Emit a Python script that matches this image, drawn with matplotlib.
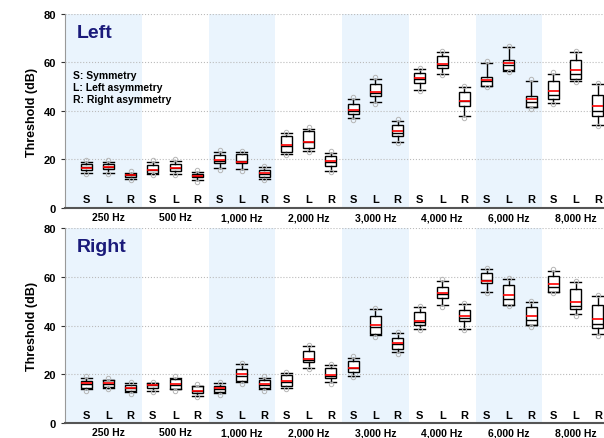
import matplotlib
matplotlib.use("Agg")
import matplotlib.pyplot as plt

plt.rcParams['font.family'] = ['Liberation Sans', 'DejaVu Sans']
plt.rcParams['font.weight'] = 'bold'

freqs = ['250 Hz', '500 Hz', '1,000 Hz', '2,000 Hz', '3,000 Hz', '4,000 Hz', '6,000 Hz', '8,000 Hz']
groups = ['S', 'L', 'R']

# left ear: whisker low, q1, median, mean, q3, whisker high (S, L, R per frequency)
left_lo = [14.5, 14.5, 12.0, 14.0, 14.0, 11.5, 16.4, 16.0, 12.0, 22.3, 23.6, 15.4,
           37.0, 43.6, 27.4, 48.8, 55.3, 37.8, 50.4, 56.6, 41.5, 43.3, 52.5, 34.2]
left_q1 = [15.5, 16.0, 12.8, 14.5, 15.1, 12.6, 18.6, 18.4, 12.6, 23.0, 24.6, 17.5,
           38.8, 46.3, 29.8, 51.5, 57.6, 42.2, 50.4, 57.0, 41.5, 44.9, 53.2, 38.1]
left_med = [17.0, 17.0, 13.5, 15.5, 16.5, 13.2, 19.5, 19.5, 14.0, 25.5, 27.0, 19.0,
            40.0, 47.5, 31.0, 53.0, 59.0, 44.0, 52.5, 59.0, 43.5, 46.7, 55.3, 40.1]
left_mean = [16.5, 16.8, 13.4, 15.7, 16.5, 13.3, 19.9, 19.1, 14.4, 26.0, 27.4, 19.2,
             40.5, 48.0, 31.6, 53.5, 59.4, 44.3, 52.9, 59.7, 44.9, 48.4, 56.9, 41.9]
left_q3 = [18.0, 18.0, 14.0, 17.9, 18.1, 14.0, 22.0, 22.3, 15.8, 29.8, 31.6, 21.3,
           42.9, 51.1, 34.0, 55.7, 62.5, 48.0, 54.2, 60.8, 46.3, 52.5, 61.2, 46.7]
left_hi = [19.0, 19.0, 14.5, 19.0, 19.5, 15.0, 23.2, 23.0, 16.8, 30.9, 32.6, 22.7,
           45.0, 53.2, 36.0, 57.3, 64.2, 49.8, 59.8, 66.3, 52.5, 55.3, 64.2, 51.1]

# right ear
right_lo = [13.9, 14.6, 12.6, 13.3, 13.9, 11.2, 12.3, 16.7, 13.9, 14.6, 22.8, 16.7,
            19.4, 36.1, 29.0, 38.6, 48.4, 38.6, 53.9, 48.5, 40.2, 53.9, 44.7, 36.5]
right_q1 = [14.6, 15.0, 13.3, 14.6, 13.9, 12.3, 12.9, 17.1, 14.2, 15.3, 25.2, 18.7,
            21.1, 36.5, 30.4, 40.2, 51.3, 42.0, 57.4, 48.5, 40.2, 53.9, 46.8, 39.2]
right_med = [16.0, 16.0, 14.5, 15.6, 15.5, 13.0, 14.0, 19.5, 15.5, 17.0, 26.0, 19.3,
             22.5, 39.5, 32.5, 41.5, 52.8, 43.0, 58.8, 50.9, 42.5, 55.7, 47.9, 40.6]
right_mean = [16.4, 16.4, 14.6, 15.6, 16.0, 13.3, 14.2, 20.0, 16.0, 17.4, 26.5, 19.7,
              22.8, 40.2, 32.8, 42.0, 53.3, 43.8, 58.4, 52.5, 43.8, 57.0, 49.8, 42.7]
right_q3 = [17.4, 17.8, 15.6, 16.4, 18.0, 15.3, 15.3, 22.2, 17.8, 19.7, 29.7, 22.8,
            25.6, 44.0, 35.1, 45.4, 55.7, 46.5, 61.8, 56.6, 47.5, 60.2, 55.0, 48.4]
right_hi = [18.7, 17.8, 16.4, 16.4, 18.7, 15.3, 16.3, 24.2, 18.7, 20.5, 31.5, 23.8,
            26.9, 46.8, 36.9, 47.5, 58.4, 48.8, 63.2, 59.1, 49.5, 62.5, 57.7, 52.0]

panels = [
    ('Left', left_lo, left_q1, left_med, left_mean, left_q3, left_hi),
    ('Right', right_lo, right_q1, right_med, right_mean, right_q3, right_hi),
]

fig = plt.figure(figsize=(6.04, 4.39), dpi=100)
axes = [fig.add_axes([0.1076, 0.524, 0.9007, 0.442]),
        fig.add_axes([0.1076, 0.034, 0.9007, 0.444])]

positions = list(range(24))

for ax, (title, lo, q1, med, mean, q3, hi) in zip(axes, panels):
    # shaded bands on every other frequency
    for g in range(0, 8, 2):
        ax.axvspan(3 * g - 0.5 if g > 0 else -1.0, 3 * g + 2.5, color='#EAF4FD', zorder=0, lw=0)

    stats = []
    for i in range(24):
        stats.append({'whislo': lo[i], 'q1': q1[i], 'med': med[i], 'mean': mean[i],
                      'q3': q3[i], 'whishi': hi[i],
                      'fliers': [lo[i] - 0.6, hi[i] + 0.6]})
    ax.bxp(stats, positions=positions, widths=0.5, patch_artist=True, showmeans=True,
           meanline=True, manage_ticks=False,
           boxprops=dict(facecolor='white', edgecolor='black', linewidth=1.0),
           medianprops=dict(color='black', linewidth=1.0),
           meanprops=dict(color='red', linestyle='-', linewidth=1.2),
           whiskerprops=dict(color='black', linewidth=1.0),
           capprops=dict(color='black', linewidth=1.0),
           capwidths=0.5,
           flierprops=dict(marker='o', markersize=3.2, markerfacecolor='none',
                           markeredgecolor='#b5b5b5', markeredgewidth=0.7))

    for i in positions:
        ax.text(i, 3.5, groups[i % 3], ha='center', va='center', fontsize=8, fontweight='bold')

    ax.set_xlim(-0.95, 23.5)
    ax.set_ylim(0, 80)
    ax.set_yticks([0, 20, 40, 60, 80])
    ax.tick_params(axis='y', labelsize=8, length=3, colors='#333333', labelcolor='black')
    ax.set_xticks([3 * g + 1 for g in range(8)])
    ax.set_xticklabels(freqs, fontsize=7.5, fontweight='bold')
    ax.tick_params(axis='x', length=0, pad=3)
    ax.yaxis.grid(True, linestyle=':', color='#bbbbbb', linewidth=0.8)
    ax.set_axisbelow(True)
    ax.spines['top'].set_visible(False)
    ax.spines['right'].set_visible(False)
    ax.spines['left'].set_color('#999999')
    ax.spines['bottom'].set_color('#555555')
    ax.spines['bottom'].set_linewidth(1.5)
    ax.set_ylabel('Threshold (dB)', fontsize=9, fontweight='bold')
    ax.text(-0.4, 72.5, title, fontsize=14, fontweight='bold', color='#1a1a7a', va='center')

axes[0].text(-0.6, 54.8, 'S: Symmetry', fontsize=7.5, fontweight='bold', va='center')
axes[0].text(-0.6, 49.9, 'L: Left asymmetry', fontsize=7.5, fontweight='bold', va='center')
axes[0].text(-0.6, 45.0, 'R: Right asymmetry', fontsize=7.5, fontweight='bold', va='center')

fig.savefig('out.png', dpi=100)
